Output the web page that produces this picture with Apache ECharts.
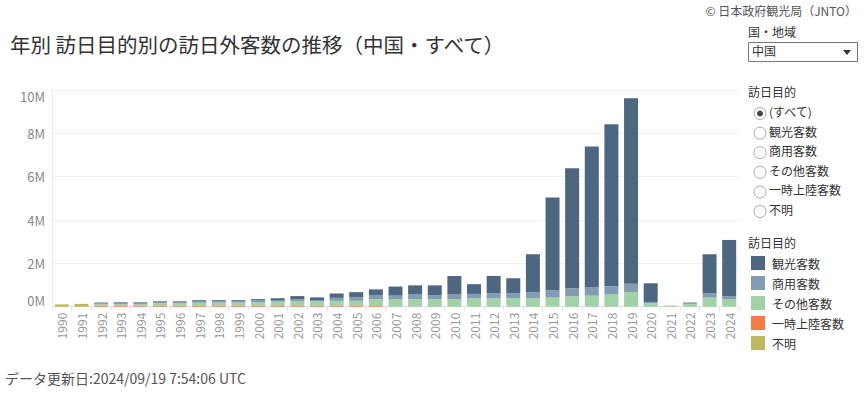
<!DOCTYPE html>
<html>
<head>
<meta charset="utf-8">
<script src="https://cdn.jsdelivr.net/npm/echarts@6/dist/echarts.min.js"></script>
<style>
html,body{margin:0;padding:0;background:#fff;}
#c{width:865px;height:393px;}
</style>
</head>
<body>
<div id="c"></div>
<script>
const years = ['1990','1991','1992','1993','1994','1995','1996','1997','1998','1999','2000','2001','2002','2003','2004','2005','2006','2007','2008','2009','2010','2011','2012','2013','2014','2015','2016','2017','2018','2019','2020','2021','2022','2023','2024'];
// values in persons
const kanko   = [0,0,30000,30000,30000,30000,30000,50000,40000,40000,60000,80000,140000,120000,200000,220000,260000,420000,400000,460000,830000,450000,800000,690000,1740000,4280000,5530000,6490000,7470000,8560000,860000,4000,40000,1800000,2590000];
const shoyo   = [0,0,50000,50000,50000,60000,60000,70000,70000,70000,80000,80000,90000,60000,140000,180000,200000,170000,245000,185000,245000,200000,230000,230000,290000,340000,380000,390000,380000,380000,60000,8000,20000,200000,150000];
const sonota  = [0,0,50000,60000,90000,100000,100000,120000,130000,130000,150000,170000,200000,190000,210000,210000,280000,340000,340000,340000,340000,390000,390000,390000,390000,420000,480000,510000,570000,680000,160000,34000,130000,420000,340000];
const ichiji  = [0,0,60000,60000,30000,60000,60000,60000,60000,60000,60000,60000,60000,60000,60000,60000,60000,0,0,0,0,0,0,0,0,0,0,0,0,0,0,0,0,0,0];
const fumei   = [106000,130000,0,0,0,0,0,0,0,0,0,0,0,0,0,0,0,0,0,0,0,0,0,0,0,0,0,0,0,0,0,0,0,0,0];
const yTicks = [0,2000000,4000000,6000000,8000000,10000000];

const colors = {
  '観光客数':'#4e6781',
  '商用客数':'#829cb1',
  'その他客数':'#a1d1a7',
  '一時上陸客数':'#f47c44',
  '不明':'#bdb75d'
};
const font = '"Noto Sans CJK JP", "Noto Sans", sans-serif';
function bar(name, data){
  return {
    name, type:'bar', stack:'total', data, barWidth:14,
    itemStyle:{color:colors[name]},
    emphasis:{disabled:true}
  };
}
const chart = echarts.init(document.getElementById('c'), null, {renderer:'svg'});
const radioItems = ['(すべて)','観光客数','商用客数','その他客数','一時上陸客数','不明'];
const graphics = [
  {type:'text', left:10, top:34, style:{text:'年別 訪日目的別の訪日外客数の推移（中国・すべて）', font:'20.5px '+font, fill:'#333'}},
  {type:'text', right:8, top:4, style:{text:'© 日本政府観光局（JNTO）', font:'12px '+font, fill:'#555'}},
  {type:'text', left:748, top:25, style:{text:'国・地域', font:'12px '+font, fill:'#333'}},
  {type:'rect', shape:{x:748.5, y:42.5, width:109, height:19}, style:{fill:'#fff', stroke:'#777', lineWidth:1}},
  {type:'text', left:752, top:44, style:{text:'中国', font:'12px '+font, fill:'#333'}},
  {type:'polygon', shape:{points:[[843,50],[851,50],[847,55]]}, style:{fill:'#333'}},
  {type:'text', left:748, top:85, style:{text:'訪日目的', font:'12px '+font, fill:'#333'}},
  {type:'text', left:748, top:236, style:{text:'訪日目的', font:'12px '+font, fill:'#333'}},
  {type:'text', left:5, top:371, style:{text:'データ更新日:2024/09/19 7:54:06 UTC', font:'14px '+font, fill:'#555'}}
];
radioItems.forEach((t,i)=>{
  const cy = 113.5 + i*19.6;
  graphics.push({type:'circle', shape:{cx:760, cy:cy, r:6}, style:{fill:'#fff', stroke:'#aaa', lineWidth:1}});
  if(i===0) graphics.push({type:'circle', shape:{cx:760, cy:cy, r:3}, style:{fill:'#444'}});
  graphics.push({type:'text', left:769, top:cy-8, style:{text:t, font:'12px '+font, fill:'#333'}});
});

chart.setOption({
  animation:false,
  textStyle:{fontFamily:font},
  grid:{left:52, right:126, top:90, bottom:86.3, containLabel:false},
  legend:{
    orient:'vertical', left:746, top:251, padding:[5,5,5,5], itemWidth:14, itemHeight:14, itemGap:6,
    icon:'rect', selectedMode:false,
    data:['観光客数','商用客数','その他客数','一時上陸客数','不明'],
    textStyle:{fontSize:12, color:'#333', fontFamily:font, padding:[0,0,0,2], lineHeight:14, height:14}
  },
  xAxis:{
    type:'category', data:years,
    axisLine:{show:true, lineStyle:{color:'#e3e3e3'}},
    axisTick:{show:true, alignWithLabel:false, length:4, lineStyle:{color:'#e3e3e3'}},
    axisLabel:{rotate:90, fontSize:12, color:'#999', fontFamily:font, margin:6, interval:0}
  },
  yAxis:{
    type:'value', min:yTicks[0], max:yTicks[yTicks.length-1], interval:2000000,
    axisLine:{show:true, lineStyle:{color:'#ececec'}},
    axisTick:{show:false},
    splitLine:{lineStyle:{color:'#f0f0f0'}},
    axisLabel:{fontSize:13, color:'#888', fontFamily:font, margin:7,
      formatter:v=>(v/1000000)+'M',
      verticalAlignMinLabel:'bottom', verticalAlignMaxLabel:'top'}
  },
  series:[
    bar('不明', fumei),
    bar('一時上陸客数', ichiji),
    bar('その他客数', sonota),
    bar('商用客数', shoyo),
    bar('観光客数', kanko)
  ],
  graphic:graphics
});
</script>
</body>
</html>
